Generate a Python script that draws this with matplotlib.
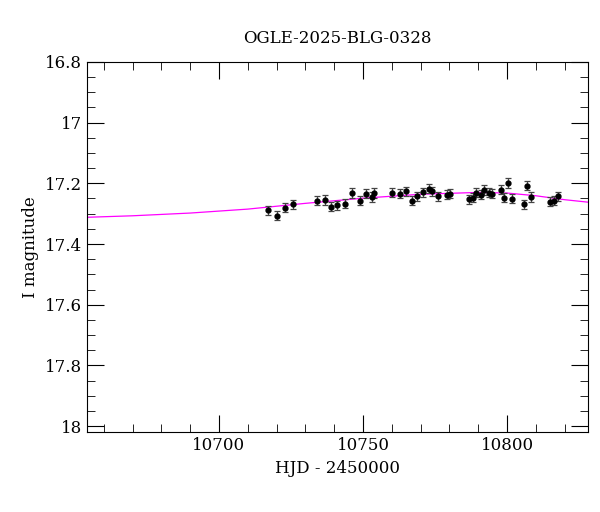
import numpy as np
import matplotlib.pyplot as plt
from matplotlib.ticker import MultipleLocator, FuncFormatter

plt.rcParams['font.family'] = 'DejaVu Serif'

hjd = [10717.1, 10720.0, 10722.9, 10725.8, 10733.9, 10736.8, 10738.9, 10741.1, 10743.9,
       10746.1, 10749.0, 10750.9, 10753.0, 10753.8, 10760.0, 10762.8, 10765.0, 10766.9,
       10768.9, 10770.9, 10772.9, 10774.1, 10776.1, 10779.0, 10780.2, 10786.9, 10788.1,
       10789.3, 10790.8, 10792.1, 10793.8, 10794.9, 10797.8, 10798.9, 10800.2, 10801.8,
       10805.9, 10806.9, 10808.3, 10815.0, 10816.2, 10817.8]
mag = [17.289, 17.307, 17.280, 17.269, 17.258, 17.255, 17.277, 17.273, 17.267,
       17.232, 17.258, 17.234, 17.245, 17.232, 17.231, 17.234, 17.226, 17.258,
       17.242, 17.229, 17.218, 17.226, 17.243, 17.237, 17.235, 17.253, 17.248,
       17.231, 17.237, 17.222, 17.231, 17.235, 17.221, 17.248, 17.199, 17.251,
       17.269, 17.208, 17.245, 17.261, 17.258, 17.243]
err = [0.015] * len(hjd)

model_t = [10654, 10670, 10690, 10710, 10730, 10750, 10770, 10790, 10800, 10810, 10820, 10828]
model_m = [17.312, 17.307, 17.298, 17.285, 17.266, 17.249, 17.236, 17.230, 17.232, 17.241, 17.254, 17.262]

fig = plt.figure(figsize=(6, 5.12), dpi=100)
ax = fig.add_axes([0.145, 0.156, 0.835, 0.723])
ax.plot(model_t, model_m, color='magenta', lw=0.9)
ax.errorbar(hjd, mag, yerr=err, fmt='o', color='black', ms=3.5, ecolor='#444444',
            elinewidth=0.9, capsize=2.5, capthick=0.9)

ax.set_xlim(10654.2, 10828.1)
ax.set_ylim(18.02, 16.8)
ax.xaxis.set_major_locator(MultipleLocator(50))
ax.xaxis.set_minor_locator(MultipleLocator(10))
ax.yaxis.set_major_locator(MultipleLocator(0.2))
ax.yaxis.set_minor_locator(MultipleLocator(0.05))
ax.yaxis.set_major_formatter(FuncFormatter(lambda v, p: f'{v:g}'))
ax.tick_params(which='both', direction='in', top=True, right=True, labelsize=12)
ax.tick_params(which='major', length=12)
ax.tick_params(which='minor', length=6)
ax.set_xlabel('HJD - 2450000', fontsize=12)
ax.set_ylabel('I magnitude', fontsize=12)
ax.set_title('OGLE-2025-BLG-0328', fontsize=12, pad=14)

plt.savefig('out.png')
